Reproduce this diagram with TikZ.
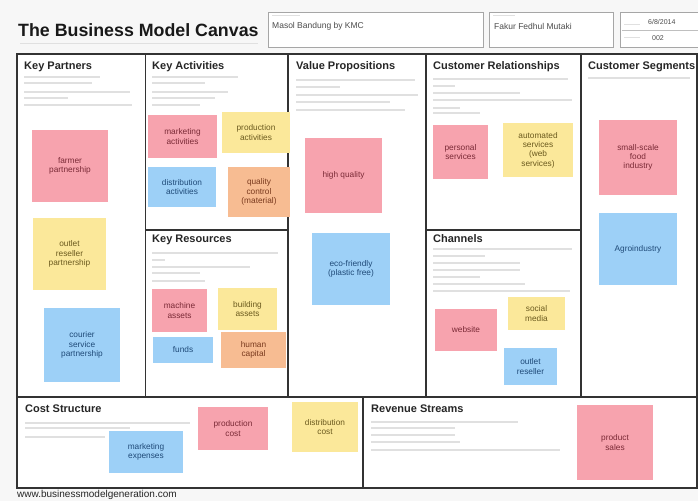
\documentclass[tikz,border=0pt]{standalone}
\usepackage{fontspec}
\setmainfont{Liberation Sans}
\begin{document}
\begin{tikzpicture}[x=1pt,y=-1pt,
  note/.style={inner sep=1pt, align=center, font=\fontsize{8.3}{9.3}\selectfont},
  pinknote/.style={note, fill=pinkc, text=pinkt},
  yellownote/.style={note, fill=yellowc, text=yellowt},
  bluenote/.style={note, fill=bluec, text=bluet},
  orangenote/.style={note, fill=orangec, text=oranget},
  sectitle/.style={anchor=west, inner sep=0pt, font=\bfseries\fontsize{11}{13}\selectfont, text=black!85},
  hint/.style={draw=black!12, line width=1.3pt},
  frame/.style={draw=black!80, line width=1.4pt},
  hbox/.style={draw=black!35, line width=0.8pt}
]
\definecolor{pinkc}{HTML}{F7A3AE}
\definecolor{pinkt}{HTML}{7A2A36}
\definecolor{yellowc}{HTML}{FBE89A}
\definecolor{yellowt}{HTML}{6B5A1E}
\definecolor{bluec}{HTML}{9DD0F7}
\definecolor{bluet}{HTML}{1F4A78}
\definecolor{orangec}{HTML}{F7BC92}
\definecolor{oranget}{HTML}{7A3A1E}
\useasboundingbox (0,0) rectangle (698,501);
\fill[black!3] (0,0) rectangle (698,501);

% header
\node[anchor=west, inner sep=0pt, font=\bfseries\fontsize{17.8}{20}\selectfont, text=black!90] (title) at (18,30) {The Business Model Canvas};
\draw[hint, line width=1pt] (20,43) -- (258,43);
\draw[hbox, fill=white] (268,12) rectangle (483,47);
\draw[hint, line width=0.8pt] (272,15) -- (300,15);
\node[anchor=west, inner sep=0pt, font=\fontsize{8.5}{9}\selectfont, text=black!70] (proj) at (272,26) {Masol Bandung by KMC};
\draw[hbox, fill=white] (489,12) rectangle (613,47);
\draw[hint, line width=0.8pt] (493,15) -- (515,15);
\node[anchor=west, inner sep=0pt, font=\fontsize{8.5}{9}\selectfont, text=black!70] (auth) at (494,26) {Fakur Fedhul Mutaki};
\draw[hbox, fill=white] (620,12) rectangle (698,47);
\draw[hint, line width=0.8pt] (624,24) -- (640,24);
\draw[hint, line width=0.8pt] (624,37) -- (640,37);
\draw[black!25, line width=0.5pt] (622,30) -- (698,30);
\node[anchor=west, inner sep=0pt, font=\fontsize{7}{8}\selectfont, text=black!70] (date) at (648,22) {6/8/2014};
\node[anchor=west, inner sep=0pt, font=\fontsize{7}{8}\selectfont, text=black!70] (iter) at (652,38) {002};

% canvas frame
\fill[white] (17,54) rectangle (697,488);
\draw[frame] (17,54) rectangle (697,488);
\draw[frame] (145.7,54) -- (145.7,397);
\draw[frame] (288,54) -- (288,397);
\draw[frame] (426,54) -- (426,397);
\draw[frame] (581,54) -- (581,397);
\draw[frame] (17,397) -- (697,397);
\draw[frame] (145.7,230) -- (288,230);
\draw[frame] (426,230) -- (581,230);
\draw[frame] (363,397) -- (363,488);

% section titles
\node[sectitle] (kp) at (24,67) {Key Partners};
\node[sectitle] (ka) at (152,67) {Key Activities};
\node[sectitle] (vp) at (296,67) {Value Propositions};
\node[sectitle] (cr) at (433,67) {Customer Relationships};
\node[sectitle] (cs) at (588,67) {Customer Segments};
\node[sectitle] (kr) at (152,240) {Key Resources};
\node[sectitle] (ch) at (433,239) {Channels};
\node[sectitle] (cost) at (25,409) {Cost Structure};
\node[sectitle] (rev) at (371,409) {Revenue Streams};

% faint hint lines
\foreach \y/\w in {77/100,83/92,92/130,98/68,105/132}{\draw[hint] (24,\y) -- (\w,\y);}
\foreach \y/\w in {77/238,83/205,92/228,98/215,105/200}{\draw[hint] (152,\y) -- (\w,\y);}
\foreach \y/\w in {80/415,87/340,95/418,102/390,110/405}{\draw[hint] (296,\y) -- (\w,\y);}
\foreach \y/\w in {79/568,86/455,93/520,100/572,108/460,113/480}{\draw[hint] (433,\y) -- (\w,\y);}
\foreach \y/\w in {78/690}{\draw[hint] (588,\y) -- (\w,\y);}
\foreach \y/\w in {253/278,260/165,267/250,273/200,281/205}{\draw[hint] (152,\y) -- (\w,\y);}
\foreach \y/\w in {249/572,256/485,263/520,270/520,277/480,284/525,291/570}{\draw[hint] (433,\y) -- (\w,\y);}
\foreach \y/\w in {423/190,428/130,437/105}{\draw[hint] (25,\y) -- (\w,\y);}
\foreach \y/\w in {422/518,428/455,435/455,442/460,450/560}{\draw[hint] (371,\y) -- (\w,\y);}

% sticky notes: key partners
\node[pinknote, minimum width=76, minimum height=72] (farmer) at (70,166) {farmer\\partnership};
\node[yellownote, minimum width=73, minimum height=72] (outletp) at (69.5,254) {outlet\\reseller\\partnership};
\node[bluenote, minimum width=76, minimum height=74] (courier) at (82,345) {courier\\service\\partnership};
% key activities
\node[pinknote, minimum width=69, minimum height=43] (mkt) at (182.5,136.5) {marketing\\activities};
\node[yellownote, minimum width=68, minimum height=41] (prod) at (256,132.5) {production\\activities};
\node[bluenote, minimum width=68, minimum height=40] (dist) at (182,187) {distribution\\activities};
\node[orangenote, minimum width=62, minimum height=50] (qual) at (259,192) {quality\\control\\(material)};
% key resources
\node[pinknote, minimum width=55, minimum height=43] (mach) at (179.5,310.5) {machine\\assets};
\node[yellownote, minimum width=59, minimum height=42] (build) at (247.5,309) {building\\assets};
\node[bluenote, minimum width=60, minimum height=26] (funds) at (183,350) {funds};
\node[orangenote, minimum width=65, minimum height=36] (human) at (253.5,350) {human\\capital};
% value propositions
\node[pinknote, minimum width=77, minimum height=75] (hq) at (343.5,175.5) {high quality};
\node[bluenote, minimum width=78, minimum height=72] (eco) at (351,269) {eco-friendly\\(plastic free)};
% customer relationships
\node[pinknote, minimum width=55, minimum height=54] (pers) at (460.5,152) {personal\\services};
\node[yellownote, minimum width=70, minimum height=54] (auto) at (538,150) {automated\\services\\(web\\services)};
% channels
\node[pinknote, minimum width=62, minimum height=42] (web) at (466,330) {website};
\node[yellownote, minimum width=57, minimum height=33] (soc) at (536.5,313.5) {social\\media};
\node[bluenote, minimum width=53, minimum height=37] (outr) at (530.5,366.5) {outlet\\reseller};
% customer segments
\node[pinknote, minimum width=78, minimum height=75] (food) at (638,157.5) {small-scale\\food\\industry};
\node[bluenote, minimum width=78, minimum height=72] (agro) at (638,249) {Agroindustry};
% cost structure
\node[pinknote, minimum width=70, minimum height=43] (pcost) at (233,428.5) {production\\cost};
\node[yellownote, minimum width=66, minimum height=50] (dcost) at (325,427) {distribution\\cost};
\node[bluenote, minimum width=74, minimum height=42] (mexp) at (146,452) {marketing\\expenses};
% revenue streams
\node[pinknote, minimum width=76, minimum height=75] (sales) at (615,442.5) {product\\sales};

% footer
\node[anchor=west, inner sep=0pt, font=\fontsize{10}{11}\selectfont, text=black!85] (url) at (17,494.5) {www.businessmodelgeneration.com};
\end{tikzpicture}
\end{document}
